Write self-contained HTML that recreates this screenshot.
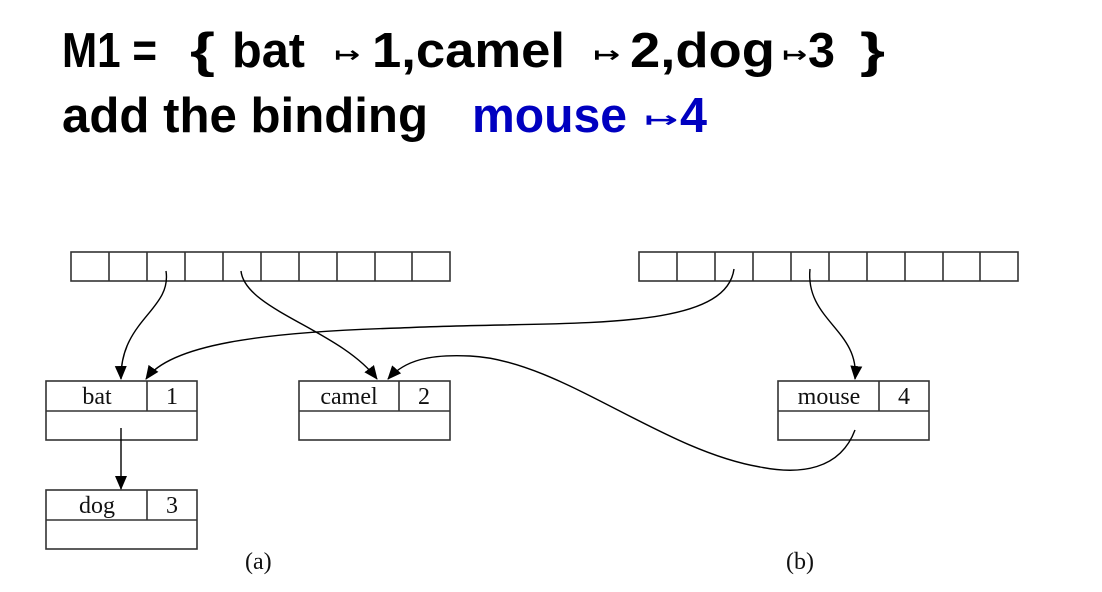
<!DOCTYPE html>
<html><head><meta charset="utf-8"><style>
html,body{margin:0;padding:0;background:#fff;}
svg{display:block;}
.t{font-family:"Liberation Sans",sans-serif;font-weight:bold;font-size:49px;}
.a{font-family:"DejaVu Sans",sans-serif;font-size:22px;font-weight:bold;}
.s{font-family:"Liberation Serif",serif;font-size:24px;fill:#111;}
</style></head><body>
<svg width="1102" height="592" viewBox="0 0 1102 592" xmlns="http://www.w3.org/2000/svg">
<defs><marker id="ar" markerWidth="14" markerHeight="14" refX="13" refY="6" orient="auto" markerUnits="userSpaceOnUse"><path d="M0,0 L14,6 L0,12 z" fill="#000"/></marker></defs>
<g class="t" fill="#000">
<text x="62" y="67" textLength="95" lengthAdjust="spacingAndGlyphs">M1 =</text>
<text x="190" y="67" textLength="25" lengthAdjust="spacingAndGlyphs">{</text>
<text x="232" y="67" textLength="73" lengthAdjust="spacingAndGlyphs">bat</text>
<text x="372" y="67" textLength="193" lengthAdjust="spacingAndGlyphs">1,camel</text>
<text x="630" y="67" textLength="145" lengthAdjust="spacingAndGlyphs">2,dog</text>
<text x="808" y="67" textLength="27" lengthAdjust="spacingAndGlyphs">3</text>
<text x="860" y="67" textLength="25" lengthAdjust="spacingAndGlyphs">}</text>
<text x="62" y="132" textLength="366" lengthAdjust="spacingAndGlyphs">add the binding</text>
<text x="472" y="132" textLength="155" lengthAdjust="spacingAndGlyphs" fill="#0000c0">mouse</text>
<text x="680" y="132" textLength="27" lengthAdjust="spacingAndGlyphs" fill="#0000c0">4</text>
</g>
<g class="a">
<text x="334" y="62" textLength="26" lengthAdjust="spacingAndGlyphs">↦</text>
<text x="593" y="62" textLength="27" lengthAdjust="spacingAndGlyphs">↦</text>
<text x="782" y="62" textLength="25" lengthAdjust="spacingAndGlyphs">↦</text>
<text x="644" y="127" textLength="34" lengthAdjust="spacingAndGlyphs" fill="#0000c0">↦</text>
</g>
<g fill="none" stroke="#333" stroke-width="1.6">
<rect x="71" y="252" width="379" height="29"/>
<rect x="639" y="252" width="379" height="29"/>
<path d="M109,252V281M147,252V281M185,252V281M223,252V281M261,252V281M299,252V281M337,252V281M375,252V281M412,252V281"/>
<path d="M677,252V281M715,252V281M753,252V281M791,252V281M829,252V281M867,252V281M905,252V281M943,252V281M980,252V281"/>
<rect x="46" y="381" width="151" height="59"/><path d="M46,411H197M147,381V411"/>
<rect x="299" y="381" width="151" height="59"/><path d="M299,411H450M399,381V411"/>
<rect x="46" y="490" width="151" height="59"/><path d="M46,520H197M147,490V520"/>
<rect x="778" y="381" width="151" height="59"/><path d="M778,411H929M879,381V411"/>
</g>
<g fill="none" stroke="#000" stroke-width="1.4" marker-end="url(#ar)">
<path d="M166,271 C172,310 120,320 121,379"/>
<path d="M241,271 C245,310 340,330 377,379"/>
<path d="M734,269 C725,335 560,320 400,328 C260,332 170,345 146,379"/>
<path d="M810,269 C805,320 860,330 855,379"/>
<path d="M855,430 C840,470 800,475 760,467 C660,450 560,360 470,356 C430,354 405,360 388,379"/>
<path d="M121,428 V489"/>
</g>
<text class="s" x="245" y="569">(a)</text>
<text class="s" x="786" y="569">(b)</text>
<g class="s">
<text x="97" y="404" text-anchor="middle">bat</text><text x="172" y="404" text-anchor="middle">1</text>
<text x="349" y="404" text-anchor="middle">camel</text><text x="424" y="404" text-anchor="middle">2</text>
<text x="97" y="513" text-anchor="middle">dog</text><text x="172" y="513" text-anchor="middle">3</text>
<text x="829" y="404" text-anchor="middle">mouse</text><text x="904" y="404" text-anchor="middle">4</text>
</g>
</svg>
</body></html>
